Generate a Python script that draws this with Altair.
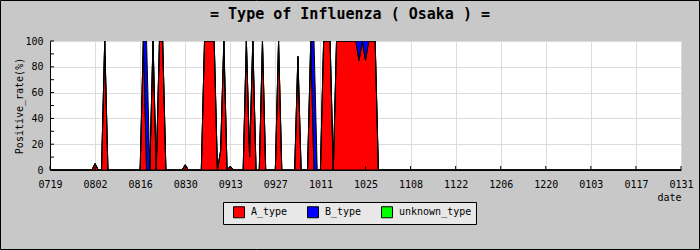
import altair as alt
import pandas as pd

# ---------------- data ----------------
tick_labels = ["0719", "0802", "0816", "0830", "0913", "0927", "1011", "1025",
               "1108", "1122", "1206", "1220", "0103", "0117", "0131"]
tick_days = [0, 14, 28, 42, 56, 70, 84, 98, 112, 126, 140, 154, 168, 182, 196]
n_days = 197  # 0719 .. 0131

# non-zero daily positive rates (day index counted from 0719)
a_days = [14, 17, 29, 32, 34, 35, 42, 48, 49, 50, 51, 53, 54, 56, 61, 62, 63,
          66, 71, 77, 81, 85, 86, 87, 89, 90, 91, 92, 93, 94, 95, 96, 97, 98,
          99, 100, 101]
a_vals = [5, 100, 100, 100, 100, 100, 4, 100, 100, 100, 100, 15, 100, 3, 100, 10, 100,
          100, 100, 88, 100, 100, 100, 100, 100, 100, 100, 100, 100, 100, 100, 85, 100, 85,
          100, 100, 100]
b_days = [30, 82, 96, 98]
b_vals = [100, 100, 15, 15]

series_names = ["A_type", "B_type", "unknown_type"]
series_colors = ["#ff0000", "#0000ff", "#00ff00"]
y_label_values = [0, 20, 40, 60, 80, 100]
y_tick_values = [0, 10, 20, 30, 40, 50, 60, 70, 80, 90, 100]

a_map = dict(zip(a_days, a_vals))
b_map = dict(zip(b_days, b_vals))
days = list(range(n_days))
df = pd.DataFrame({
    "day": days,
    "A": [a_map.get(d, 0) for d in days],
    "B": [b_map.get(d, 0) for d in days],
})
df["total"] = df["A"] + df["B"]

# ---------------- style ----------------
MONO = "DejaVu Sans Mono"
BG = "#c8c8c8"
GRID = "#dcdcdc"
LEGEND_BG = "#e8e8e8"
W, H = 631, 129

xs = alt.Scale(domain=[0, 196], nice=False, zero=False)
ys = alt.Scale(domain=[0, 100], nice=False)

label_expr = "[" + ",".join(f"'{t}'" for t in tick_labels) + "][round(datum.value / 14)]"

xaxis = alt.Axis(values=tick_days, labelExpr=label_expr, title="date",
                 titleX=W, titleY=27, titleAlign="right", titleBaseline="middle",
                 titleFont=MONO, titleFontSize=10, titleFontWeight="normal", titleColor="black",
                 grid=True, gridColor=GRID, gridWidth=1, ticks=False,
                 domainColor="black", domainWidth=1,
                 labelPadding=9, labelFont=MONO, labelFontSize=10, labelColor="black",
                 labelFlush=False, labelOverlap=False)

yaxis = alt.Axis(values=y_label_values, title="Positive_rate(%)",
                 titleX=-31, titleY=H / 2, titleAngle=270, titleAlign="center",
                 titleBaseline="middle", titleFont=MONO, titleFontSize=10,
                 titleFontWeight="normal", titleColor="black",
                 grid=True, gridColor=GRID, gridWidth=1, ticks=False,
                 domainColor="black", domainWidth=1,
                 labelPadding=7, labelFont=MONO, labelFontSize=10, labelColor="black",
                 labelFlush=False)

color_scale = alt.Scale(domain=series_names, range=series_colors)
legend = alt.Legend(title=None, orient="none", legendX=173, legendY=161,
                    direction="horizontal", columns=3, fillColor=LEGEND_BG,
                    strokeColor="black", padding=4, symbolType="square", symbolSize=121,
                    symbolStrokeColor="black", symbolStrokeWidth=1, symbolOffset=6,
                    labelOffset=6, columnPadding=13, labelFont=MONO, labelFontSize=10,
                    labelColor="black", symbolOpacity=1)

one = alt.Data(values=[{}])

shadow = alt.Chart(one).mark_rect(fill="#999999").encode(
    x=alt.value(176), x2=alt.value(426), y=alt.value(164), y2=alt.value(183))

area_a = alt.Chart(df).transform_calculate(series="'A_type'").mark_area(
    stroke="black", strokeWidth=1, opacity=1, clip=True
).encode(
    x=alt.X("day:Q", scale=xs, axis=xaxis),
    y=alt.Y("A:Q", scale=ys, axis=yaxis, stack=None),
    color=alt.Color("series:N", scale=color_scale, legend=legend),
)

area_b = alt.Chart(df).transform_calculate(series="'B_type'").mark_area(
    stroke="black", strokeWidth=1, opacity=1, clip=True
).encode(
    x=alt.X("day:Q", scale=xs, axis=xaxis),
    y=alt.Y("total:Q", scale=ys, axis=yaxis, stack=None),
    y2=alt.Y2("A:Q"),
    color=alt.Color("series:N", scale=color_scale, legend=legend),
)

yticks = alt.Chart(pd.DataFrame({"v": y_tick_values})).mark_rule(
    color="black", strokeWidth=1
).encode(
    y=alt.Y("v:Q", scale=ys, axis=yaxis), x=alt.value(0), x2=alt.value(4))

xticks = alt.Chart(pd.DataFrame({"d": tick_days})).mark_rule(
    color="black", strokeWidth=1
).encode(
    x=alt.X("d:Q", scale=xs, axis=xaxis), y=alt.value(H), y2=alt.value(H - 4))

title_text = alt.Chart(one).mark_text(
    text="= Type of Influenza ( Osaka ) =", font=MONO, fontSize=15, fontWeight="bold",
    color="black", align="center", baseline="middle"
).encode(x=alt.value(300), y=alt.value(-27))

border = alt.Chart(one).mark_rect(fill="transparent", stroke="black", strokeWidth=1).encode(
    x=alt.value(-49.5), x2=alt.value(649.5), y=alt.value(-40.5), y2=alt.value(208.5))

chart = alt.layer(shadow, area_a, area_b, yticks, xticks, title_text, border).properties(
    width=W, height=H,
    padding={"left": 50, "top": 41, "right": 19, "bottom": 80},
    autosize="none",
    background=BG,
).configure_view(stroke="transparent", fill="white")

chart.save("out.html", embed_options={"renderer": "svg", "actions": False})
